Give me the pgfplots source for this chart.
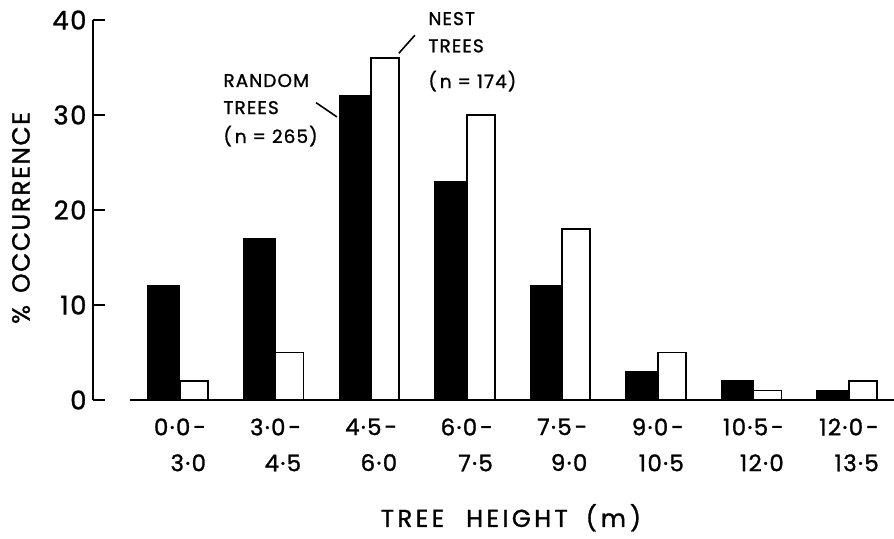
\documentclass[border=0pt]{standalone}
\usepackage{pgfplots}
\pgfplotsset{compat=1.18}
\usepackage{fontspec}
\setmainfont{Poppins}
\newfontfamily\lettering[LetterSpace=6,FakeBold=1.2]{Poppins}
\newfontfamily\titlefont[LetterSpace=14,FakeBold=1.2]{Poppins}
\begin{document}
\begin{tikzpicture}
\useasboundingbox (0,0) rectangle (894bp,539bp);
\begin{axis}[
  at={(93bp,139bp)}, anchor=south west,
  width=801bp, height=380bp, scale only axis,
  xmin=-0.9103, xmax=7.471, ymin=0, ymax=40,
  clip=false,
  axis y line*=left, axis x line*=bottom,
  x axis line style={draw=none},
  y axis line style={line width=1.8bp, -},
  ytick={0,10,20,30,40},
  ytick style={line width=1.8bp, black},
  tick align=inside,
  major tick length=12bp,
  xtick={0,...,7},
  xtick style={draw=none},
  xticklabels={{0·0\hspace{3bp}-\\3·0},{3·0\hspace{3bp}-\\4·5},{4·5\hspace{3bp}-\\6·0},{6·0\hspace{3bp}-\\7·5},{7·5\hspace{3bp}-\\9·0},{9·0\hspace{3bp}-\\10·5},{10·5\hspace{3bp}-\\12·0},{12·0\hspace{3bp}-\\13·5}},
  x tick label style={font=\lettering\fontsize{23}{36}\selectfont, align=right, anchor=north, yshift=-15bp},
  y tick label style={font=\lettering\fontsize{26}{30}\selectfont, xshift=-3bp},
  /pgf/number format/assume math mode=true,
  xlabel={TREE\hspace{22bp}HEIGHT\hspace{18bp}(\hspace{4bp}m\hspace{4bp})},
  xlabel style={font=\titlefont\fontsize{24.5}{28}\selectfont, at={(axis description cs:0.5218,-0.31)}, anchor=center},
  ylabel={\%\hspace{12bp}OCCURRENCE},
  ylabel style={font=\lettering\fontsize{25}{28}\selectfont, at={(axis description cs:-0.0899,0.479)}, anchor=center},
]
\addplot[ybar, bar width=32bp, bar shift=-16bp, fill=black, draw=black, line width=1bp]
  coordinates {(0,12) (1,17) (2,32) (3,23) (4,12) (5,3) (6,2) (7,1)};
\addplot[ybar, bar width=28bp, bar shift=14bp, fill=white, draw=black, line width=1.8bp]
  coordinates {(0,2) (1,5) (2,36) (3,30) (4,18) (5,5) (6,1) (7,2)};
\addplot[black, line width=2bp, no marks] coordinates {(-0.523,0) (7.471,0)};
\addplot[black, line width=1.6bp, no marks] coordinates {(1.423,31.3) (1.642,29.8)};
\addplot[black, line width=1.6bp, no marks] coordinates {(2.29,36.5) (2.458,38.4)};
\node[anchor=base west, font=\lettering\fontsize{18.5}{20}\selectfont] at (axis cs:0.418,32.95) {RANDOM};
\node[anchor=base west, font=\lettering\fontsize{18.5}{20}\selectfont] at (axis cs:0.418,30.1) {TREES};
\node[anchor=base west, font=\lettering\fontsize{18.5}{20}\selectfont] at (axis cs:0.418,27.05) {(\hspace{3bp}n = 265)};
\node[anchor=base west, font=\lettering\fontsize{18.5}{20}\selectfont] at (axis cs:2.563,39.47) {NEST};
\node[anchor=base west, font=\lettering\fontsize{18.5}{20}\selectfont] at (axis cs:2.563,36.6) {TREES};
\node[anchor=base west, font=\lettering\fontsize{18.5}{20}\selectfont] at (axis cs:2.563,32.84) {(\hspace{3bp}n = 174)};
\end{axis}
\end{tikzpicture}
\end{document}
